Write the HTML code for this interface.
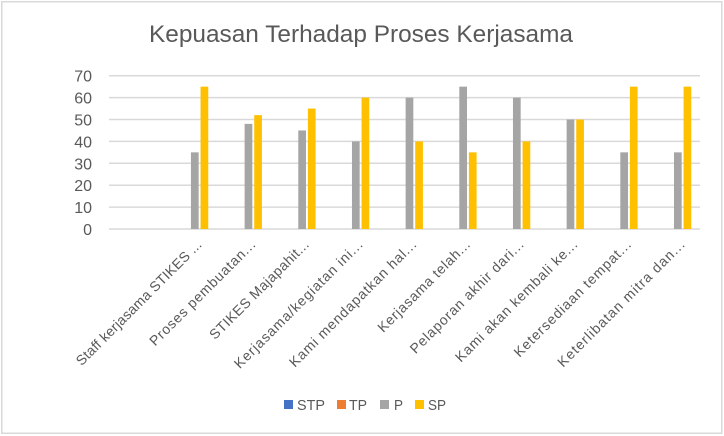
<!DOCTYPE html>
<html>
<head>
<meta charset="utf-8">
<style>
  html, body { margin: 0; padding: 0; background: #ffffff; }
  body { width: 724px; height: 436px; overflow: hidden; }
  svg { display: block; }
  text { font-family: "Liberation Sans", sans-serif; fill: #595959; }
</style>
</head>
<body>
<svg width="724" height="436" viewBox="0 0 724 436" xmlns="http://www.w3.org/2000/svg">
  <rect x="0" y="0" width="724" height="436" fill="#ffffff"/>
  <rect x="1.75" y="1.75" width="720" height="431.5" fill="none" stroke="#d9d9d9" stroke-width="1.5"/>

  <!-- Title -->
  <text x="149" y="42" font-size="24" textLength="424" lengthAdjust="spacingAndGlyphs">Kepuasan Terhadap Proses Kerjasama</text>

  <!-- Gridlines -->
  <g stroke="#d9d9d9" stroke-width="1.5">
    <line x1="109" y1="229" x2="700" y2="229"/>
    <line x1="109" y1="207.1" x2="700" y2="207.1"/>
    <line x1="109" y1="185.2" x2="700" y2="185.2"/>
    <line x1="109" y1="163.3" x2="700" y2="163.3"/>
    <line x1="109" y1="141.4" x2="700" y2="141.4"/>
    <line x1="109" y1="119.5" x2="700" y2="119.5"/>
    <line x1="109" y1="97.6" x2="700" y2="97.6"/>
    <line x1="109" y1="75.7" x2="700" y2="75.7"/>
  </g>

  <!-- Y tick labels -->
  <g font-size="16" text-anchor="end">
    <text x="92" y="235">0</text>
    <text x="92" y="213.1">10</text>
    <text x="92" y="191.2">20</text>
    <text x="92" y="169.3">30</text>
    <text x="92" y="147.4">40</text>
    <text x="92" y="125.5">50</text>
    <text x="92" y="103.6">60</text>
    <text x="92" y="81.7">70</text>
  </g>

  <!-- Bars: P (gray) and SP (yellow) -->
  <g fill="#a5a5a5">
    <rect x="190.95" y="152.35" width="7.7" height="76.65"/>
    <rect x="244.62" y="123.88" width="7.7" height="105.12"/>
    <rect x="298.29" y="130.45" width="7.7" height="98.55"/>
    <rect x="351.96" y="141.4" width="7.7" height="87.6"/>
    <rect x="405.63" y="97.6" width="7.7" height="131.4"/>
    <rect x="459.3" y="86.65" width="7.7" height="142.35"/>
    <rect x="512.97" y="97.6" width="7.7" height="131.4"/>
    <rect x="566.64" y="119.5" width="7.7" height="109.5"/>
    <rect x="620.31" y="152.35" width="7.7" height="76.65"/>
    <rect x="673.98" y="152.35" width="7.7" height="76.65"/>
  </g>
  <g fill="#ffc000">
    <rect x="200.55" y="86.65" width="7.7" height="142.35"/>
    <rect x="254.22" y="115.12" width="7.7" height="113.88"/>
    <rect x="307.89" y="108.55" width="7.7" height="120.45"/>
    <rect x="361.56" y="97.6" width="7.7" height="131.4"/>
    <rect x="415.23" y="141.4" width="7.7" height="87.6"/>
    <rect x="468.9" y="152.35" width="7.7" height="76.65"/>
    <rect x="522.57" y="141.4" width="7.7" height="87.6"/>
    <rect x="576.24" y="119.5" width="7.7" height="109.5"/>
    <rect x="629.91" y="86.65" width="7.7" height="142.35"/>
    <rect x="683.58" y="86.65" width="7.7" height="142.35"/>
  </g>

  <!-- X category labels (rotated -45) -->
  <g font-size="14" text-anchor="end">
    <text transform="translate(202.5,245.5) rotate(-45)" x="0" y="0" textLength="171" lengthAdjust="spacing">Staff kerjasama STIKES ...</text>
    <text transform="translate(256.2,245.5) rotate(-45)" x="0" y="0" textLength="143" lengthAdjust="spacing">Proses pembuatan...</text>
    <text transform="translate(309.8,245.5) rotate(-45)" x="0" y="0" textLength="134" lengthAdjust="spacing">STIKES Majapahit...</text>
    <text transform="translate(363.5,245.5) rotate(-45)" x="0" y="0" textLength="175" lengthAdjust="spacing">Kerjasama/kegiatan ini...</text>
    <text transform="translate(417.2,245.5) rotate(-45)" x="0" y="0" textLength="173" lengthAdjust="spacing">Kami mendapatkan hal...</text>
    <text transform="translate(470.9,245.5) rotate(-45)" x="0" y="0" textLength="124" lengthAdjust="spacing">Kerjasama telah...</text>
    <text transform="translate(524.5,245.5) rotate(-45)" x="0" y="0" textLength="154" lengthAdjust="spacing">Pelaporan akhir dari...</text>
    <text transform="translate(578.2,245.5) rotate(-45)" x="0" y="0" textLength="166" lengthAdjust="spacing">Kami akan kembali ke...</text>
    <text transform="translate(631.9,245.5) rotate(-45)" x="0" y="0" textLength="159" lengthAdjust="spacing">Ketersediaan tempat...</text>
    <text transform="translate(685.5,245.5) rotate(-45)" x="0" y="0" textLength="173" lengthAdjust="spacing">Keterlibatan mitra dan...</text>
  </g>

  <!-- Legend -->
  <rect x="284" y="400" width="9" height="9" fill="#4472c4"/>
  <text x="297" y="410" font-size="15" textLength="28" lengthAdjust="spacingAndGlyphs">STP</text>
  <rect x="337" y="400" width="9" height="9" fill="#ed7d31"/>
  <text x="349" y="410" font-size="15" textLength="18" lengthAdjust="spacingAndGlyphs">TP</text>
  <rect x="380" y="400" width="9" height="9" fill="#a5a5a5"/>
  <text x="394" y="410" font-size="15" textLength="9" lengthAdjust="spacingAndGlyphs">P</text>
  <rect x="415" y="400" width="9" height="9" fill="#ffc000"/>
  <text x="428" y="410" font-size="15" textLength="18" lengthAdjust="spacingAndGlyphs">SP</text>
</svg>
</body>
</html>
